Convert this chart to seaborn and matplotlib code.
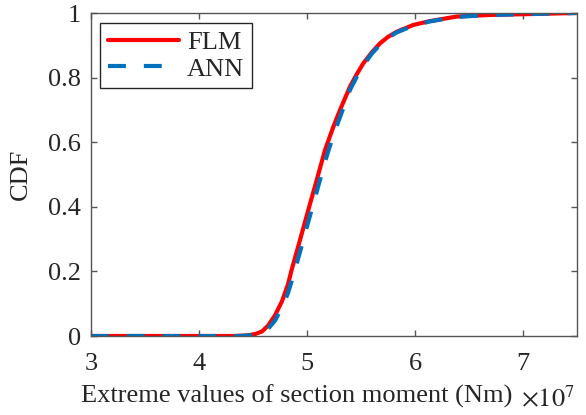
import numpy as np
import pandas as pd
import matplotlib
matplotlib.use("Agg")
import matplotlib.pyplot as plt
import seaborn as sns

# Data (x in units of 1e7 Nm)
flm_x = [3.0, 4.333, 4.45, 4.519, 4.583, 4.639, 4.704, 4.769, 4.824, 4.858, 4.935, 5.012,
         5.090, 5.167, 5.244, 5.306, 5.398, 5.46, 5.521, 5.60, 5.676, 5.75, 5.831, 5.984,
         6.139, 6.386, 6.694, 7.5]
flm_y = [0.0, 0.0, 0.002, 0.006, 0.014, 0.032, 0.064, 0.108, 0.160, 0.205, 0.297, 0.390,
         0.483, 0.576, 0.648, 0.700, 0.772, 0.810, 0.844, 0.878, 0.906, 0.926, 0.942, 0.963,
         0.975, 0.989, 0.994, 1.0]
ann_x = [3.0, 4.333, 4.45, 4.519, 4.583, 4.639, 4.704, 4.769, 4.824, 4.858, 4.935, 5.012,
         5.090, 5.167, 5.244, 5.306, 5.398, 5.46, 5.521, 5.60, 5.676, 5.75, 5.831, 5.984,
         6.139, 6.386, 6.694, 7.5]
ann_y = [0.0, 0.0, 0.001, 0.004, 0.009, 0.022, 0.048, 0.088, 0.133, 0.170, 0.260, 0.354,
         0.447, 0.540, 0.622, 0.678, 0.762, 0.802, 0.838, 0.874, 0.902, 0.923, 0.940, 0.961,
         0.974, 0.988, 0.994, 1.0]

x_ticks = [3, 4, 5, 6, 7]
y_ticks = [0, 0.2, 0.4, 0.6, 0.8, 1]
y_tick_labels = ["0", "0.2", "0.4", "0.6", "0.8", "1"]
series_names = ["FLM", "ANN"]

sns.set_theme(style="white")
plt.rcParams["font.family"] = ["Liberation Serif", "DejaVu Serif"]
plt.rcParams["mathtext.fontset"] = "stix"

df = pd.concat([
    pd.DataFrame({"x": flm_x, "y": flm_y, "series": series_names[0]}),
    pd.DataFrame({"x": ann_x, "y": ann_y, "series": series_names[1]}),
])

fig = plt.figure(figsize=(5.86, 4.15), dpi=100)
ax = fig.add_axes([91/586, 1-336/415, 486/586, 323/415])

sns.lineplot(data=df[df.series == "FLM"], x="x", y="y", ax=ax, color="#FF0000",
             lw=3, label="FLM", estimator=None, sort=False)
sns.lineplot(data=df[df.series == "ANN"], x="x", y="y", ax=ax, color="#0072BD",
             lw=3, label="ANN", estimator=None, sort=False)
ax.lines[1].set_linestyle((0, (4.3, 4.3)))
ax.lines[1].set_dash_capstyle("butt")

ax.set_xlim(3, 7.5)
ax.set_ylim(0, 1)
ax.set_xticks(x_ticks)
ax.set_xticklabels([str(t) for t in x_ticks])
ax.set_yticks(y_ticks)
ax.set_yticklabels(y_tick_labels)
grey = "#262626"
for s in ax.spines.values():
    s.set_visible(True)
    s.set_color("#555555")
    s.set_linewidth(1.0)
ax.tick_params(direction="in", length=4, width=1.0, color="#555555", labelcolor=grey,
               labelsize=19, top=True, right=True, bottom=True, left=True)
ax.tick_params(axis="y", pad=7)
ax.tick_params(axis="x", pad=12)
ax.set_xlabel("Extreme values of section moment (Nm)", fontsize=19, color=grey)
ax.xaxis.set_label_coords((297-91)/486, (336-403)/323)
ax.xaxis.label.set_va("baseline")
ax.set_ylabel("CDF", fontsize=19, color=grey)
ax.yaxis.set_label_coords((21-91)/486, 0.5)
ax.yaxis.label.set_va("center")
fig.text(521/586, 1-407/415, r"$\times10^{7}$", fontsize=19, color=grey, ha="left", va="baseline")

leg = ax.legend(loc="upper left", bbox_to_anchor=(0.0185, 0.969), borderaxespad=0,
                fontsize=19, handlelength=2.7, handletextpad=0.3, labelspacing=0.1,
                borderpad=0.3, fancybox=False, framealpha=1, edgecolor=grey)
leg.get_frame().set_linewidth(1.0)
for t in leg.get_texts():
    t.set_color(grey)

fig.savefig("out.png", dpi=100)
